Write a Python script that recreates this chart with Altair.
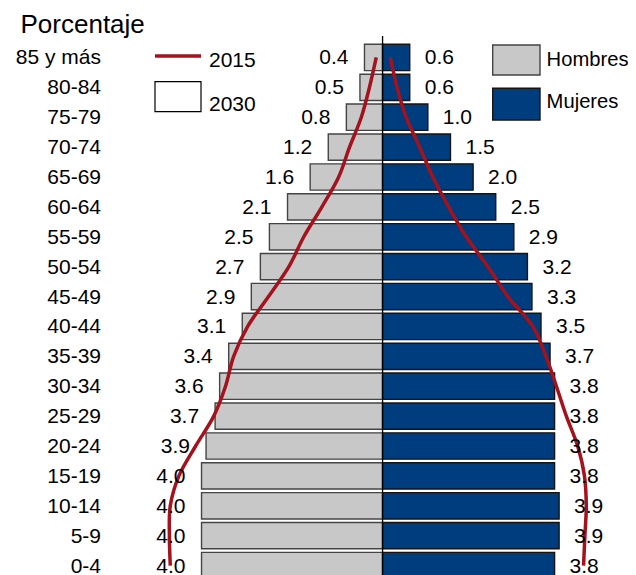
import altair as alt
import pandas as pd

# ---------------- data ----------------
edades = ["85 y más", "80-84", "75-79", "70-74", "65-69", "60-64", "55-59",
          "50-54", "45-49", "40-44", "35-39", "30-34", "25-29", "20-24",
          "15-19", "10-14", "5-9", "0-4"]
hombres_2030 = [0.4, 0.5, 0.8, 1.2, 1.6, 2.1, 2.5, 2.7, 2.9, 3.1, 3.4, 3.6,
                3.7, 3.9, 4.0, 4.0, 4.0, 4.0]
mujeres_2030 = [0.6, 0.6, 1.0, 1.5, 2.0, 2.5, 2.9, 3.2, 3.3, 3.5, 3.7, 3.8,
                3.8, 3.8, 3.8, 3.9, 3.9, 3.8]
hombres_2015 = [0.14, 0.29, 0.47, 0.73, 0.97, 1.34, 1.74, 2.07, 2.52, 2.98,
                3.29, 3.47, 3.73, 4.13, 4.50, 4.69, 4.71, 4.69]
mujeres_2015 = [0.17, 0.32, 0.52, 0.82, 1.11, 1.46, 1.85, 2.33, 2.77, 3.32,
                3.61, 3.84, 4.06, 4.31, 4.46, 4.50, 4.47, 4.44]
sexos = ["Hombres", "Mujeres"]
anios = ["2015", "2030"]

# ---------------- tables ----------------
bar_rows, line_rows = [], []
for i, e in enumerate(edades):
    bar_rows.append({"edad": e, "sexo": "Hombres", "pos": -hombres_2030[i], "valor": hombres_2030[i]})
    bar_rows.append({"edad": e, "sexo": "Mujeres", "pos": mujeres_2030[i], "valor": mujeres_2030[i]})
    line_rows.append({"edad": e, "sexo": "Hombres", "pos": -hombres_2015[i], "orden": i})
    line_rows.append({"edad": e, "sexo": "Mujeres", "pos": mujeres_2015[i], "orden": i})
bars_df = pd.DataFrame(bar_rows)
line_df = pd.DataFrame(line_rows)

FONT = "Liberation Sans"
GRIS = "#C8C8C8"
AZUL = "#003D7E"
ROJO = "#A3121D"
BORDE_GRIS = "#444444"
BORDE_AZUL = "#141414"

color_scale = alt.Scale(domain=sexos, range=[GRIS, AZUL])
stroke_scale = alt.Scale(domain=sexos, range=[BORDE_GRIS, BORDE_AZUL])
x_enc = alt.X("pos:Q", scale=alt.Scale(domain=[-6, 5.4], nice=False, zero=False),
              axis=None, stack=None)
y_enc = alt.Y("edad:N", sort=edades,
              scale=alt.Scale(paddingInner=0.12, paddingOuter=0.06),
              axis=alt.Axis(title=None, domain=False, ticks=False, grid=False,
                            labelFontSize=21, labelFont=FONT, labelColor="black",
                            labelPadding=10.5, labelOffset=1))

bars = alt.Chart(bars_df).mark_bar(strokeWidth=1.4).encode(
    x=x_enc, y=y_enc,
    color=alt.Color("sexo:N", scale=color_scale, legend=None),
    stroke=alt.Stroke("sexo:N", scale=stroke_scale, legend=None),
)

zero_df = pd.DataFrame({"pos": [0.0]})
axis_rule = alt.Chart(zero_df).mark_rule(color="black", strokeWidth=1.3).encode(
    x=x_enc, y=alt.value(-6.5), y2=alt.value(560)
)

lines = alt.Chart(line_df).mark_line(color=ROJO, strokeWidth=3.5,
                                     interpolate="catmull-rom").encode(
    x=x_enc, y=y_enc, detail="sexo:N", order="orden:Q"
)

lab_h = alt.Chart(bars_df).transform_filter(alt.datum.sexo == "Hombres").mark_text(
    align="right", baseline="middle", dx=-16, dy=1, fontSize=21, font=FONT, color="black"
).encode(x=x_enc, y=y_enc, text=alt.Text("valor:Q", format=".1f"))

lab_m = alt.Chart(bars_df).transform_filter(alt.datum.sexo == "Mujeres").mark_text(
    align="left", baseline="middle", dx=15, dy=1, fontSize=21, font=FONT, color="black"
).encode(x=x_enc, y=y_enc, text=alt.Text("valor:Q", format=".1f"))

# ---------------- legends ----------------
one = pd.DataFrame({"k": [0]})
leg_line = alt.Chart(one).mark_rule(color=ROJO, strokeWidth=3.5).encode(
    x=alt.value(44), x2=alt.value(90), y=alt.value(13.5))
leg_box30 = alt.Chart(one).mark_rect(fill="white", stroke="black", strokeWidth=1.2).encode(
    x=alt.value(44), x2=alt.value(90), y=alt.value(39.2), y2=alt.value(69.2))
leg_t15 = alt.Chart(one).mark_text(text=anios[0], align="left", baseline="alphabetic",
                                   fontSize=21, font=FONT, color="black").encode(
    x=alt.value(98), y=alt.value(24.2))
leg_t30 = alt.Chart(one).mark_text(text=anios[1], align="left", baseline="alphabetic",
                                   fontSize=21, font=FONT, color="black").encode(
    x=alt.value(98), y=alt.value(68.5))

leg_h = alt.Chart(one).mark_rect(fill=GRIS, stroke=BORDE_GRIS, strokeWidth=1.4).encode(
    x=alt.value(381.7), x2=alt.value(429), y=alt.value(2.5), y2=alt.value(32.5))
leg_m = alt.Chart(one).mark_rect(fill=AZUL, stroke=BORDE_AZUL, strokeWidth=1.4).encode(
    x=alt.value(381.7), x2=alt.value(429), y=alt.value(45.8), y2=alt.value(77.5))
leg_th = alt.Chart(one).mark_text(text=sexos[0], align="left", baseline="alphabetic",
                                  fontSize=20.2, font=FONT, color="black").encode(
    x=alt.value(435.6), y=alt.value(23.2))
leg_tm = alt.Chart(one).mark_text(text=sexos[1], align="left", baseline="alphabetic",
                                  fontSize=20.2, font=FONT, color="black").encode(
    x=alt.value(435.6), y=alt.value(65.8))

subtitulo = alt.Chart(one).mark_text(text="Porcentaje", align="left", baseline="alphabetic",
                                     fontSize=26, font=FONT, color="black").encode(
    x=alt.value(-90.5), y=alt.value(-9.2))

chart = alt.layer(
    bars, axis_rule, lines, lab_h, lab_m,
    leg_line, leg_box30, leg_t15, leg_t30, leg_h, leg_m, leg_th, leg_tm, subtitulo
).properties(
    width=516, height=538,
    autosize=alt.AutoSizeParams(type="none"),
    padding={"left": 103, "top": 34.5, "right": 1, "bottom": 0},
).configure_view(stroke=None)

chart.save("out.html", embed_options={"renderer": "svg", "actions": False})
